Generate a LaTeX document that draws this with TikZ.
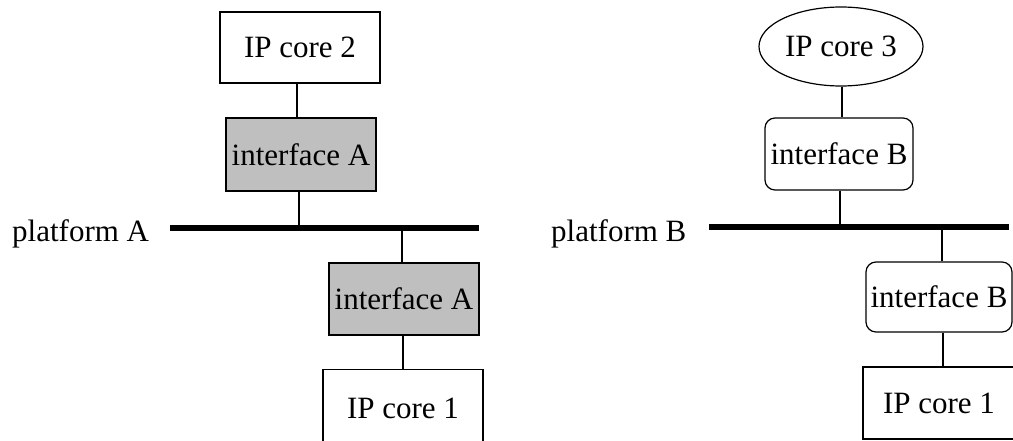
\documentclass[tikz,border=0pt]{standalone}
\usepackage{fontspec}
\setmainfont{Liberation Serif}
\usetikzlibrary{shapes.geometric}
\begin{document}
\begin{tikzpicture}[x=1pt,y=1pt,
  every node/.style={font=\fontsize{31}{36}\selectfont, inner sep=0pt},
  core/.style={draw, line width=1.2pt, fill=white, minimum width=160pt, minimum height=71pt},
  ifa/.style={draw, line width=1.2pt, fill=gray!50!white, fill=black!25, minimum width=150pt, minimum height=73pt},
  ifb/.style={draw, line width=1.2pt, rounded corners=10pt, minimum width=148pt, minimum height=72pt},
  oval/.style={draw, ellipse, line width=1.2pt, minimum width=164pt, minimum height=79pt},
  wire/.style={line width=1.3pt},
  bus/.style={line width=5.5pt}]
\useasboundingbox (0,0) rectangle (1013,-441);
\clip (0,0) rectangle (1013,-441);
% ---- platform A ----
\node[core] (c2) at (300,-47.5) {IP core 2};
\node[ifa] (ia1) at (301,-154.5) {interface A};
\node[anchor=base west] (pa) at (12,-241) {platform A};
\coordinate (bal) at (170,-228);
\coordinate (bar) at (479,-228);
\draw[bus] (bal) -- (bar);
\node[ifa, minimum height=72pt] (ia2) at (404,-299) {interface A};
\node[core, anchor=north, minimum height=78pt] (c1a) at (403,-369) {IP core 1};
\draw[wire] (c2.south -| 297,0) -- (ia1.north -| 297,0);
\draw[wire] (ia1.south -| 299,0) -- (bal -| 299,0);
\draw[wire] (bal -| 402,0) -- (ia2.north -| 402,0);
\draw[wire] (ia2.south -| 403,0) -- (c1a.north -| 403,0);
% ---- platform B ----
\node[oval] (c3) at (841,-46.5) {IP core 3};
\node[ifb] (ib1) at (839,-154) {interface B};
\node[anchor=base west] (pb) at (551,-241) {platform B};
\coordinate (bbl) at (709,-227);
\coordinate (bbr) at (1009,-227);
\draw[bus] (bbl) -- (bbr);
\node[ifb, minimum width=146pt, minimum height=70pt] (ib2) at (939,-297) {interface B};
\node[core, minimum width=152pt, minimum height=72pt] (c1b) at (939,-403) {IP core 1};
\draw[wire] (c3.south -| 842,0) -- (ib1.north -| 842,0);
\draw[wire] (ib1.south -| 840,0) -- (bbl -| 840,0);
\draw[wire] (bbl -| 942,0) -- (ib2.north -| 942,0);
\draw[wire] (ib2.south -| 943,0) -- (c1b.north -| 943,0);
\end{tikzpicture}
\end{document}
